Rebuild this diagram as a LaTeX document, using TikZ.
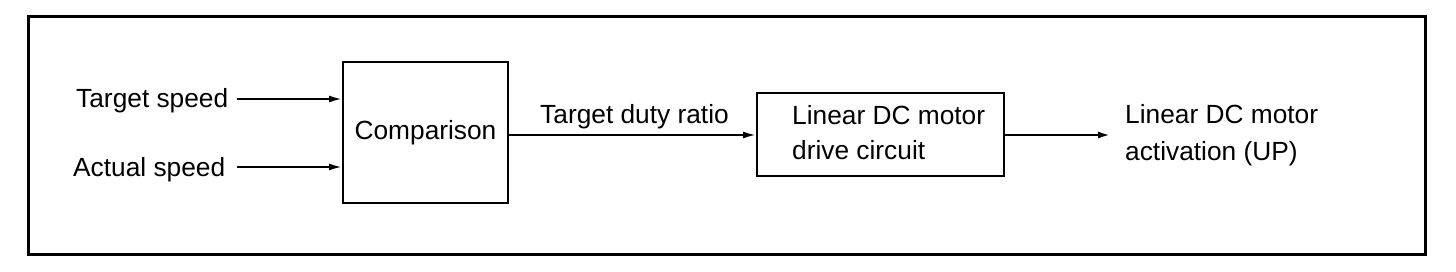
\documentclass[tikz,border=0pt]{standalone}
\usepackage{fontspec}
\setmainfont{Liberation Sans}
\usetikzlibrary{arrows.meta}
\begin{document}
\begin{tikzpicture}[x=1pt,y=-1pt,
  txt/.style={inner sep=0pt,anchor=base west,font=\fontsize{26.3}{36}\selectfont},
  blk/.style={draw,line width=2pt,inner sep=0pt,font=\fontsize{26.3}{36}\selectfont},
  arr/.style={line width=2pt,-{Latex[length=13pt,width=7pt]}}]
\useasboundingbox (0,0) rectangle (1456,272);
\draw[line width=3pt] (28,17) rectangle (1425,255);
\node[blk,minimum width=165pt,minimum height=141pt] (cmp) at (425.5,132.5) {Comparison};
\node[blk,minimum width=247pt,minimum height=83pt] (drv) at (880.5,135) {};
\node[txt] (dl1) at (792,125) {Linear DC motor};
\node[txt] (dl2) at (792,160) {drive circuit};
\node[txt] (ts) at (76,108) {Target speed};
\node[txt] (as) at (73,177) {Actual speed};
\node[txt] (tdr) at (540,124) {Target duty ratio};
\node[txt] (o1) at (1125,124) {Linear DC motor};
\node[txt] (o2) at (1125,161) {activation (UP)};
\coordinate (tsa) at (237,99);
\coordinate (asa) at (237,167);
\coordinate (oute) at (1111,135);
\draw[arr] (tsa) -- (cmp.west |- tsa);
\draw[arr] (asa) -- (cmp.west |- asa);
\draw[arr] (cmp.east |- drv.west) -- (drv.west);
\draw[arr,line width=2.6pt] (drv.east) -- (oute);
\end{tikzpicture}
\end{document}
